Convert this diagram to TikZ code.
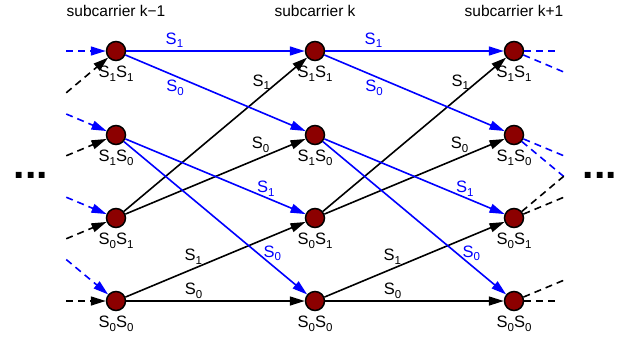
\documentclass[tikz,border=0pt]{standalone}
\usepackage{fontspec}
\setmainfont{Liberation Sans}
\usetikzlibrary{arrows.meta,calc}
\definecolor{nodered}{RGB}{140,0,0}
\newcommand{\Sx}[1]{S\raisebox{-3.5pt}{\fontsize{11.5}{12}\selectfont #1}}
\begin{document}
\begin{tikzpicture}[x=1pt,y=-1pt,
  st/.style={circle,draw=black,fill=nodered,line width=1.5pt,minimum size=19pt,inner sep=0pt},
  nlab/.style={font=\fontsize{16.5}{18}\selectfont,inner sep=0pt,label distance=5pt},
  lbl/.style={font=\fontsize{16.5}{18}\selectfont,inner sep=0pt},
  blbl/.style={lbl,text=blue},
  ttl/.style={font=\fontsize{15.5}{18}\selectfont,inner sep=0pt},
  dotsn/.style={font=\bfseries\fontsize{41}{41}\selectfont,inner sep=0pt,anchor=base},
  tip/.style={-{Triangle[length=15pt,width=9pt]}},
  bedge/.style={draw=blue,line width=1.6pt},
  kedge/.style={draw=black,line width=1.6pt},
  dsh/.style={dash pattern=on 7pt off 5pt}
]
\useasboundingbox (0,0) rectangle (621,341);

% titles
\node[ttl] (t1) at (116,11) {subcarrier k−1};
\node[ttl] (t2) at (315,11) {subcarrier k};
\node[ttl] (t3) at (514,11) {subcarrier k+1};

% states
\foreach \c/\x in {a/116,b/315,c/514}{
  \node[st,label={[nlab]below:{\Sx{1}\Sx{1}}}] (\c11) at (\x,51) {};
  \node[st,label={[nlab]below:{\Sx{1}\Sx{0}}}] (\c10) at (\x,135) {};
  \node[st,label={[nlab]below:{\Sx{0}\Sx{1}}}] (\c01) at (\x,218) {};
  \node[st,label={[nlab]below:{\Sx{0}\Sx{0}}}] (\c00) at (\x,301) {};
}

% virtual neighbour columns
\coordinate (p11) at (-83,51);
\coordinate (p10) at (-83,135);
\coordinate (p01) at (-83,218);
\coordinate (p00) at (-83,301);
\coordinate (q11) at (713,51);
\coordinate (q10) at (713,135);
\coordinate (q01) at (713,218);
\coordinate (q00) at (713,301);

% trellis branches
\foreach \X/\Y in {a/b,b/c}{
  \draw[kedge,tip] (\X01) -- node[lbl,pos=0.75,shift={(0,-14)}] {\Sx{1}} (\Y11);
  \draw[kedge,tip] (\X01) -- node[lbl,pos=0.75,shift={(0,-13)}] {\Sx{0}} (\Y10);
  \draw[kedge,tip] (\X00) -- node[lbl,pos=0.377,shift={(0,-12)}] {\Sx{1}} (\Y01);
  \draw[kedge,tip] (\X00) -- node[lbl,pos=0.377,shift={(0,-10)}] {\Sx{0}} (\Y00);
  \draw[bedge,tip] (\X11) -- node[blbl,pos=0.27,shift={(0,-11)}] {\Sx{1}} (\Y11);
  \draw[bedge,tip] (\X11) -- node[blbl,pos=0.276,shift={(0,12)}] {\Sx{0}} (\Y10);
  \draw[bedge,tip] (\X10) -- node[blbl,pos=0.78,shift={(0,-9)}] {\Sx{1}} (\Y01);
  \draw[bedge,tip] (\X10) -- node[blbl,pos=0.81,shift={(0,-12)}] {\Sx{0}} (\Y00);
}

% incoming dashed branches
\draw[bedge,dsh,tip] ($(p11)!0.75!(a11)$) -- (a11);
\draw[kedge,dsh,tip] ($(p01)!0.75!(a11)$) -- (a11);
\draw[bedge,dsh,tip] ($(p11)!0.75!(a10)$) -- (a10);
\draw[kedge,dsh,tip] ($(p01)!0.75!(a10)$) -- (a10);
\draw[bedge,dsh,tip] ($(p10)!0.75!(a01)$) -- (a01);
\draw[kedge,dsh,tip] ($(p00)!0.75!(a01)$) -- (a01);
\draw[bedge,dsh,tip] ($(p10)!0.75!(a00)$) -- (a00);
\draw[kedge,dsh,tip] ($(p00)!0.75!(a00)$) -- (a00);

% outgoing dashed branches
\draw[bedge,dsh] (c11) -- ($(c11)!0.23!(q11)$);
\draw[bedge,dsh] (c11) -- ($(c11)!0.25!(q10)$);
\draw[bedge,dsh] (c10) -- ($(c10)!0.25!(q01)$);
\draw[bedge,dsh] (c10) -- ($(c10)!0.25!(q00)$);
\draw[kedge,dsh] (c01) -- ($(c01)!0.25!(q11)$);
\draw[kedge,dsh] (c01) -- ($(c01)!0.25!(q10)$);
\draw[kedge,dsh] (c00) -- ($(c00)!0.25!(q01)$);
\draw[kedge,dsh] (c00) -- ($(c00)!0.23!(q00)$);

% ellipses
\node[dotsn] (dl) at (31,178) {...};
\node[dotsn] (dr) at (600,178) {...};
\end{tikzpicture}
\end{document}
